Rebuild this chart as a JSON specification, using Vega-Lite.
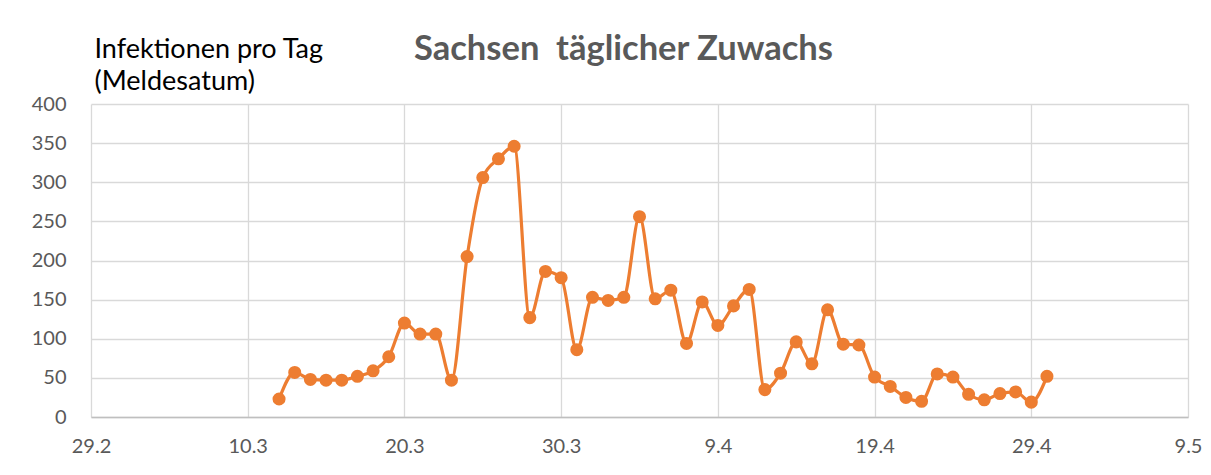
{
  "$schema": "https://vega.github.io/schema/vega-lite/v6.json",
  "width": 1097,
  "height": 313,
  "autosize": {"type": "none"},
  "padding": {"left": 91, "top": 104, "right": 23, "bottom": 58},
  "background": "white",
  "title": {
    "text": "Sachsen\u00a0 täglicher Zuwachs",
    "anchor": "start",
    "frame": "group",
    "dx": 323,
    "offset": -59,
    "baseline": "alphabetic",
    "font": "Lato",
    "fontSize": 34.5,
    "fontWeight": "bold",
    "color": "#595959"
  },
  "config": {
    "view": {"stroke": null},
    "font": "Lato"
  },
  "data": {
    "values": [
      {"datum": "2020-03-12", "infektionen": 23},
      {"datum": "2020-03-13", "infektionen": 57},
      {"datum": "2020-03-14", "infektionen": 48},
      {"datum": "2020-03-15", "infektionen": 47},
      {"datum": "2020-03-16", "infektionen": 47},
      {"datum": "2020-03-17", "infektionen": 52},
      {"datum": "2020-03-18", "infektionen": 59},
      {"datum": "2020-03-19", "infektionen": 77},
      {"datum": "2020-03-20", "infektionen": 120},
      {"datum": "2020-03-21", "infektionen": 106},
      {"datum": "2020-03-22", "infektionen": 106},
      {"datum": "2020-03-23", "infektionen": 47},
      {"datum": "2020-03-24", "infektionen": 205},
      {"datum": "2020-03-25", "infektionen": 306},
      {"datum": "2020-03-26", "infektionen": 330},
      {"datum": "2020-03-27", "infektionen": 346},
      {"datum": "2020-03-28", "infektionen": 127},
      {"datum": "2020-03-29", "infektionen": 186},
      {"datum": "2020-03-30", "infektionen": 178},
      {"datum": "2020-03-31", "infektionen": 86},
      {"datum": "2020-04-01", "infektionen": 153},
      {"datum": "2020-04-02", "infektionen": 149},
      {"datum": "2020-04-03", "infektionen": 153},
      {"datum": "2020-04-04", "infektionen": 256},
      {"datum": "2020-04-05", "infektionen": 151},
      {"datum": "2020-04-06", "infektionen": 162},
      {"datum": "2020-04-07", "infektionen": 94},
      {"datum": "2020-04-08", "infektionen": 147},
      {"datum": "2020-04-09", "infektionen": 117},
      {"datum": "2020-04-10", "infektionen": 142},
      {"datum": "2020-04-11", "infektionen": 163},
      {"datum": "2020-04-12", "infektionen": 35},
      {"datum": "2020-04-13", "infektionen": 56},
      {"datum": "2020-04-14", "infektionen": 96},
      {"datum": "2020-04-15", "infektionen": 68},
      {"datum": "2020-04-16", "infektionen": 137},
      {"datum": "2020-04-17", "infektionen": 93},
      {"datum": "2020-04-18", "infektionen": 92},
      {"datum": "2020-04-19", "infektionen": 51},
      {"datum": "2020-04-20", "infektionen": 39},
      {"datum": "2020-04-21", "infektionen": 25},
      {"datum": "2020-04-22", "infektionen": 20},
      {"datum": "2020-04-23", "infektionen": 55},
      {"datum": "2020-04-24", "infektionen": 51},
      {"datum": "2020-04-25", "infektionen": 29},
      {"datum": "2020-04-26", "infektionen": 22},
      {"datum": "2020-04-27", "infektionen": 30},
      {"datum": "2020-04-28", "infektionen": 32},
      {"datum": "2020-04-29", "infektionen": 19},
      {"datum": "2020-04-30", "infektionen": 52}
    ]
  },
  "mark": {
    "type": "line",
    "color": "#ED7D31",
    "strokeWidth": 3.2,
    "interpolate": "monotone",
    "point": {"filled": true, "size": 170, "color": "#ED7D31", "opacity": 1}
  },
  "encoding": {
    "x": {
      "field": "datum",
      "type": "temporal",
      "scale": {
        "type": "utc",
        "domain": [
          {"year": 2020, "month": 2, "date": 29, "utc": true},
          {"year": 2020, "month": 5, "date": 9, "utc": true}
        ]
      },
      "axis": {
        "title": null,
        "values": [
          {"year": 2020, "month": 2, "date": 29, "utc": true},
          {"year": 2020, "month": 3, "date": 10, "utc": true},
          {"year": 2020, "month": 3, "date": 20, "utc": true},
          {"year": 2020, "month": 3, "date": 30, "utc": true},
          {"year": 2020, "month": 4, "date": 9, "utc": true},
          {"year": 2020, "month": 4, "date": 19, "utc": true},
          {"year": 2020, "month": 4, "date": 29, "utc": true},
          {"year": 2020, "month": 5, "date": 9, "utc": true}
        ],
        "format": "%-d.%-m",
        "labelFont": "Lato",
        "labelFontSize": 20,
        "labelColor": "#595959",
        "labelPadding": 19,
        "labelFlush": false,
        "labelOverlap": false,
        "ticks": false,
        "grid": true,
        "gridColor": "#D9D9D9",
        "gridWidth": 1.3,
        "domain": true,
        "domainColor": "#BFBFBF",
        "domainWidth": 1.5,
        "zindex": 0
      }
    },
    "y": {
      "field": "infektionen",
      "type": "quantitative",
      "scale": {"domain": [0, 400], "nice": false, "zero": true},
      "axis": {
        "values": [0, 50, 100, 150, 200, 250, 300, 350, 400],
        "title": ["Infektionen pro Tag", "(Meldesatum)"],
        "titleAngle": 0,
        "titleAlign": "left",
        "titleBaseline": "alphabetic",
        "titleX": 3,
        "titleY": -47,
        "titleFont": "Lato",
        "titleFontSize": 27,
        "titleFontWeight": "normal",
        "titleColor": "#000000",
        "titleLineHeight": 32,
        "labelFont": "Lato",
        "labelFontSize": 20,
        "labelColor": "#595959",
        "labelPadding": 25,
        "ticks": false,
        "domain": false,
        "grid": true,
        "gridColor": "#D9D9D9",
        "gridWidth": 1.3,
        "zindex": 0
      }
    }
  }
}
